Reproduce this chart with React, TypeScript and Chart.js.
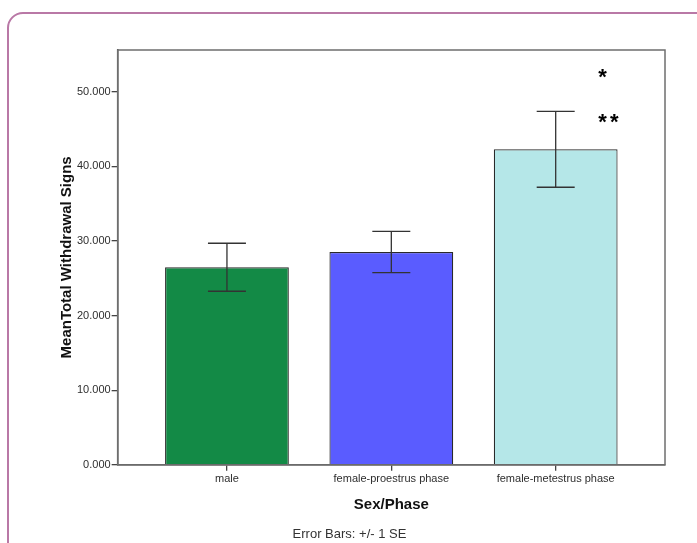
import React, { useEffect, useRef } from "react";
import { Chart, registerables } from "chart.js";

Chart.register(...registerables);

const categories = ["male", "female-proestrus phase", "female-metestrus phase"];
const means = [26.48, 28.53, 42.28];
const stdErrors = [3.22, 2.77, 5.08];
const barColors = ["#138a46", "#5a5cff", "#b5e7e8"];
const yTicks = [0, 10, 20, 30, 40, 50];
const significance = [
  { text: "*", x: 2.29, y: 51.8 },
  { text: "**", x: 2.29, y: 45.8 },
];
const footnote = "Error Bars: +/- 1 SE";

const FONT = "Arial, 'Liberation Sans', sans-serif";

const frameAndErrors = {
  id: "frameAndErrors",
  afterDatasetsDraw(chart: any) {
    const { ctx, chartArea, scales } = chart;
    const xs = scales.x;
    const ys = scales.y;
    ctx.save();
    // error bars
    ctx.strokeStyle = "#333333";
    ctx.lineWidth = 1.3;
    for (let i = 0; i < means.length; i++) {
      const px = xs.getPixelForValue(i);
      const top = ys.getPixelForValue(means[i] + stdErrors[i]);
      const bot = ys.getPixelForValue(means[i] - stdErrors[i]);
      ctx.beginPath();
      ctx.moveTo(px, top);
      ctx.lineTo(px, bot);
      ctx.moveTo(px - 19, top);
      ctx.lineTo(px + 19, top);
      ctx.moveTo(px - 19, bot);
      ctx.lineTo(px + 19, bot);
      ctx.stroke();
    }
    // frame
    ctx.strokeStyle = "#6e6e6e";
    ctx.lineWidth = 1.5;
    ctx.strokeRect(chartArea.left, chartArea.top, chartArea.right - chartArea.left, chartArea.bottom - chartArea.top);
    // significance marks
    ctx.fillStyle = "#000000";
    ctx.font = `bold 22px ${FONT}`;
    ctx.textAlign = "left";
    ctx.textBaseline = "middle";
    (ctx as any).letterSpacing = "3px";
    for (const s of significance) {
      ctx.fillText(s.text, xs.getPixelForValue(s.x) - 5, ys.getPixelForValue(s.y));
    }
    (ctx as any).letterSpacing = "0px";
    // footnote
    ctx.fillStyle = "#333333";
    ctx.font = `13px ${FONT}`;
    ctx.textAlign = "center";
    ctx.textBaseline = "middle";
    ctx.fillText(footnote, chart.width / 2 + 1, chartArea.bottom + 70);
    ctx.restore();
  },
};

export default function App() {
  const ref = useRef<HTMLCanvasElement | null>(null);
  useEffect(() => {
    if (!ref.current) return;
    const chart = new Chart(ref.current, {
      type: "bar",
      data: {
        labels: categories,
        datasets: [
          {
            data: means.map((m, i) => ({ x: i, y: m })),
            backgroundColor: barColors,
            borderColor: "#2a2a2a",
            borderWidth: 1.2,
            barPercentage: 1,
            categoryPercentage: 0.753,
          },
        ],
      },
      options: {
        responsive: false,
        animation: false,
        layout: { padding: { left: 58, right: 32, top: 50, bottom: 29 } },
        plugins: {
          legend: { display: false },
          tooltip: { enabled: false },
          title: { display: false },
        },
        scales: {
          x: {
            type: "linear",
            offset: false,
            min: -0.665,
            max: 2.665,
            afterBuildTicks: (scale: any) => {
              scale.ticks = categories.map((_, i) => ({ value: i }));
            },
            ticks: {
              callback: (v: any) => categories[v as number] ?? "",
              color: "#2e2e2e",
              font: { family: FONT, size: 11 },
              padding: 2,
              maxRotation: 0,
              autoSkip: false,
            },
            grid: { display: true, offset: false, drawOnChartArea: false, drawTicks: true, tickLength: 6, color: "#444444", lineWidth: 1.3 },
            border: { display: true, color: "#444444", width: 1.5 },
            title: {
              display: true,
              text: "Sex/Phase",
              color: "#111111",
              font: { family: FONT, size: 15, weight: "bold" },
              padding: { top: 8, bottom: 0 },
            },
          },
          y: {
            min: 0,
            max: 55.6,
            afterBuildTicks: (scale: any) => {
              scale.ticks = yTicks.map((v) => ({ value: v }));
            },
            ticks: {
              callback: (v: any) => Number(v).toFixed(3),
              color: "#2e2e2e",
              font: { family: FONT, size: 11 },
              padding: 1,
            },
            grid: { display: true, drawOnChartArea: false, drawTicks: true, tickLength: 6, color: "#444444", lineWidth: 1.3 },
            border: { display: true, color: "#444444", width: 1.5 },
            title: {
              display: true,
              text: "MeanTotal Withdrawal Signs",
              color: "#111111",
              font: { family: FONT, size: 15, weight: "bold" },
              padding: { top: 0, bottom: 0 },
            },
          },
        },
      },
      plugins: [frameAndErrors],
    } as any);
    return () => chart.destroy();
  }, []);

  return (
    <div style={{ position: "absolute", left: 0, top: 0, width: 697, height: 543, overflow: "hidden", background: "#ffffff" }}>
      <div
        style={{
          position: "absolute",
          left: 7,
          top: 12,
          width: 730,
          height: 600,
          border: "2px solid #b978a6",
          borderRadius: 16,
          boxSizing: "border-box",
        }}
      />
      <canvas ref={ref} width={697} height={543} style={{ position: "absolute", left: 0, top: 0, display: "block" }} />
    </div>
  );
}
